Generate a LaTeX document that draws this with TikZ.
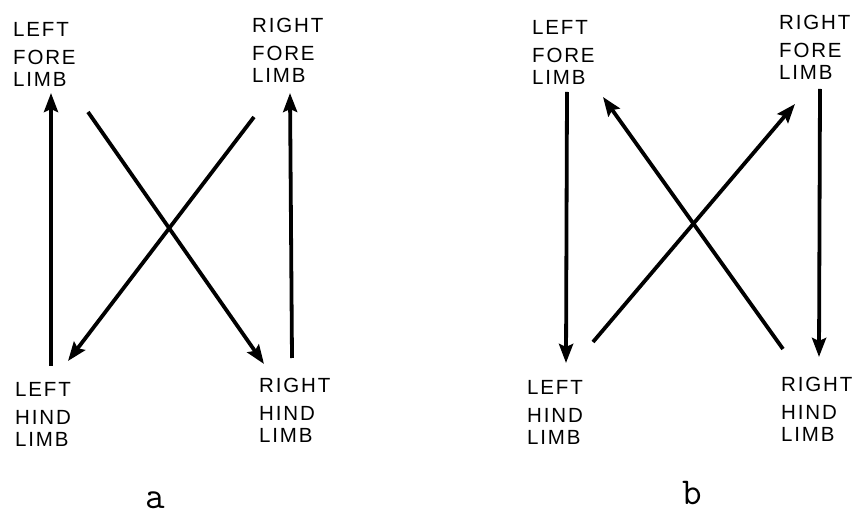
\documentclass[tikz,border=0pt]{standalone}
\usepackage{fontspec}
\setmainfont{Liberation Sans}
\newfontfamily\lblfont[LetterSpace=9]{Liberation Sans}
\usetikzlibrary{arrows.meta}
\tikzset{
  limb/.style={anchor=north west, inner sep=0pt, align=left,
    font=\lblfont\fontsize{20.5}{22}\selectfont},
  panel/.style={inner sep=0pt, font=\ttfamily\fontsize{38}{40}\selectfont},
  move/.style={line width=3.8pt, -{Stealth[length=19pt,width=14pt,inset=3pt]}}
}
\begin{document}
\begin{tikzpicture}[x=1pt,y=-1pt]
\useasboundingbox (0,0) rectangle (857,518);
% panel a labels
\node[limb] (alf) at (13,22) {LEFT\\[6pt]FORE\\LIMB};
\node[limb] (arf) at (252,18) {RIGHT\\[6pt]FORE\\LIMB};
\node[limb] (alh) at (15,382) {LEFT\\[6pt]HIND\\LIMB};
\node[limb] (arh) at (259,378) {RIGHT\\[6pt]HIND\\LIMB};
\node[panel] (pa) at (155,500) {a};
% panel b labels
\node[limb] (blf) at (532,20) {LEFT\\[6pt]FORE\\LIMB};
\node[limb] (brf) at (779,15) {RIGHT\\[6pt]FORE\\LIMB};
\node[limb] (blh) at (527,380) {LEFT\\[6pt]HIND\\LIMB};
\node[limb] (brh) at (781,377) {RIGHT\\[6pt]HIND\\LIMB};
\node[panel] (pb) at (692,493) {b};
% panel a connector ends
\coordinate (a1s) at (51,366);  \coordinate (a1e) at (51,93);
\coordinate (a2s) at (292,358); \coordinate (a2e) at (290,93);
\coordinate (a3s) at (88,112);  \coordinate (a3e) at (264,364);
\coordinate (a4s) at (254,117); \coordinate (a4e) at (68,361);
\draw[move] (a1s) -- (a1e);
\draw[move] (a2s) -- (a2e);
\draw[move] (a3s) -- (a3e);
\draw[move] (a4s) -- (a4e);
% panel b connector ends
\coordinate (b1s) at (567,92);  \coordinate (b1e) at (566,363);
\coordinate (b2s) at (820,89);  \coordinate (b2e) at (819,357);
\coordinate (b3s) at (593,342); \coordinate (b3e) at (795,104);
\coordinate (b4s) at (783,349); \coordinate (b4e) at (603,97);
\draw[move] (b1s) -- (b1e);
\draw[move] (b2s) -- (b2e);
\draw[move] (b3s) -- (b3e);
\draw[move] (b4s) -- (b4e);
\end{tikzpicture}
\end{document}
